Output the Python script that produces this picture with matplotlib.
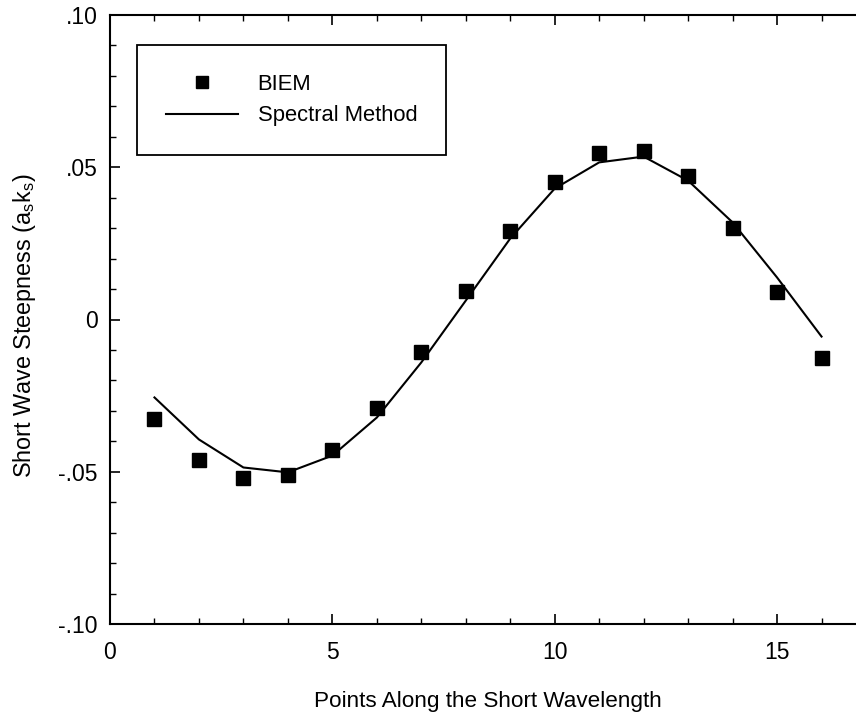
import numpy as np
import matplotlib
matplotlib.use('Agg')
import matplotlib.pyplot as plt
from matplotlib.ticker import MultipleLocator

plt.rcParams['font.family'] = ['Liberation Sans', 'DejaVu Sans']

# points along the short wave
pts = np.arange(1, 17)

# BIEM results (squares)
biem = [-0.0328, -0.0460, -0.0522, -0.0512, -0.0427, -0.0292, -0.0108, 0.0095,
        0.0292, 0.0450, 0.0548, 0.0555, 0.0470, 0.0302, 0.0089, -0.0128]

# spectral method (line)
spectral = [-0.0256, -0.0394, -0.0486, -0.0502, -0.0447, -0.0322, -0.0141, 0.0062,
            0.0266, 0.0430, 0.0516, 0.0535, 0.0456, 0.0319, 0.0138, -0.0056]

yticks = [-0.10, -0.05, 0.0, 0.05, 0.10]
ytick_labels = ['-.10', '-.05', '0', '.05', '.10']
xticks = [0, 5, 10, 15]

fig = plt.figure(figsize=(8.56, 7.18), dpi=100)
ax = fig.add_axes([110/856, 94/718, 756/856, 609/718])

ax.plot(pts, biem, 's', color='black', markersize=9.5, label='BIEM')
ax.plot(pts, spectral, '-', color='black', linewidth=1.5, label='Spectral Method')

ax.set_xlim(0, 17)
ax.set_ylim(-0.10, 0.10)
ax.set_xticks(xticks)
ax.set_xticklabels([str(t) for t in xticks])
ax.xaxis.set_minor_locator(MultipleLocator(1))
ax.set_yticks(yticks)
ax.set_yticklabels(ytick_labels)
ax.yaxis.set_minor_locator(MultipleLocator(0.01))

ax.tick_params(which='both', direction='in', top=True, right=True, labelsize=16.5)
ax.tick_params(which='major', length=7, width=1.2)
ax.tick_params(which='minor', length=4, width=1.0)
ax.tick_params(axis='x', pad=12)
ax.tick_params(axis='y', pad=9)
for s in ax.spines.values():
    s.set_linewidth(1.5)

ax.set_xlabel('Points Along the Short Wavelength', fontsize=16.2, labelpad=20)
ax.set_ylabel(r'Short Wave Steepness (a$_\mathregular{s}$k$_\mathregular{s}$)', fontsize=16.8)
ax.yaxis.set_label_coords(-0.095, 0.49)

leg = ax.legend(loc='upper left', bbox_to_anchor=(27/756, 1 - 30/609), fontsize=15.8,
                frameon=True, fancybox=False, edgecolor='black', framealpha=1,
                handlelength=3.3, handletextpad=0.9, borderpad=1.3, labelspacing=0.5,
                borderaxespad=0, markerscale=0.85)
leg.get_frame().set_linewidth(1.3)

fig.savefig('out.png', dpi=100)
